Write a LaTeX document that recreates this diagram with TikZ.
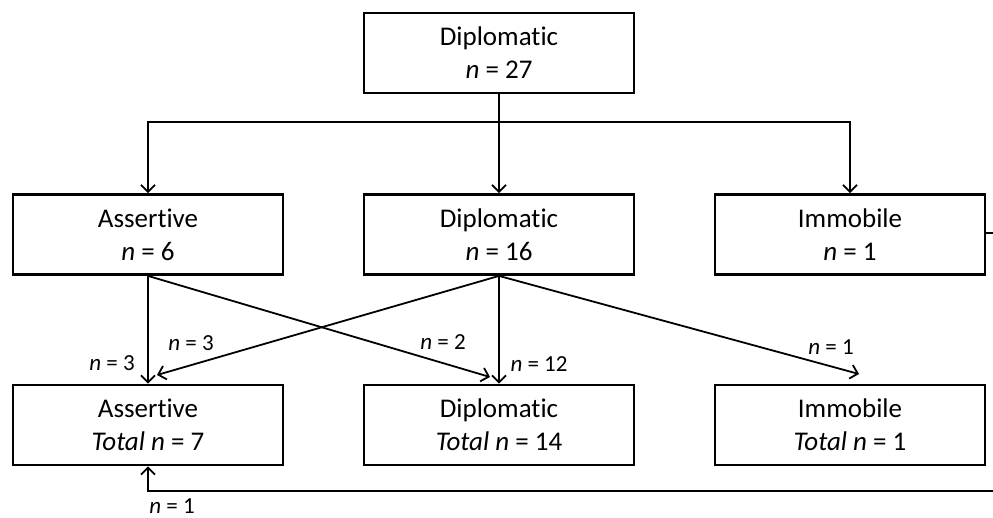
\documentclass[tikz,border=0pt]{standalone}
\usepackage{fontspec}
\setmainfont[Ligatures={NoCommon}]{Carlito}
\usetikzlibrary{arrows.meta,calc}
\begin{document}
\begin{tikzpicture}[x=1pt,y=-1pt,
  box/.style={draw,line width=2.8pt,minimum width=270pt,minimum height=80pt,inner sep=0pt,align=center,font=\fontsize{27}{33}\selectfont},
  conn/.style={line width=1.8pt},
  arr/.style={conn,-{Straight Barb[length=7pt,width=14pt,line width=1.8pt]}},
  lab/.style={font=\fontsize{23}{25}\selectfont,inner sep=0pt}]
\useasboundingbox (0,0) rectangle (993,517);
\node[box] (top) at (499,53) {Diplomatic\\\textit{n} = 27};
\node[box] (a1) at (148,234.5) {Assertive\\\textit{n} = 6};
\node[box] (d1) at (499,234.5) {Diplomatic\\\textit{n} = 16};
\node[box] (i1) at (850,234.5) {Immobile\\\textit{n} = 1};
\node[box] (a2) at (148,425) {Assertive\\\textit{Total n} = 7};
\node[box] (d2) at (499,425) {Diplomatic\\\textit{Total n} = 14};
\node[box] (i2) at (850,425) {Immobile\\\textit{Total n} = 1};
\coordinate (hl) at (148,122);
\coordinate (hr) at (850,122);
\coordinate (ta) at (157,375);
\coordinate (td) at (490,377);
\coordinate (ti) at (859,374);
\coordinate (re) at (994,233);
\coordinate (be) at (994,491);
\draw[arr] (top.south) -- (d1.north);
\draw[arr] (top.south |- hl) -| (a1.north);
\draw[arr] (top.south |- hl) -| (i1.north);
\draw[arr] (a1.south) -- (a2.north);
\draw[arr] (a1.south) -- (td);
\draw[arr] (d1.south) -- (ta);
\draw[arr] (d1.south) -- (d2.north);
\draw[arr] (d1.south) -- (ti);
\draw[conn] (i1.east |- re) -- (re);
\draw[arr] (be) -| (a2.south);
\node[lab] (l1) at (191,343) {\textit{n} = 3};
\node[lab] (l2) at (112,363) {\textit{n} = 3};
\node[lab] (l3) at (443,342) {\textit{n} = 2};
\node[lab] (l4) at (539,364) {\textit{n} = 12};
\node[lab] (l5) at (831,347) {\textit{n} = 1};
\node[lab,anchor=base] (l6) at (172,513) {\textit{n} = 1};
\end{tikzpicture}
\end{document}
